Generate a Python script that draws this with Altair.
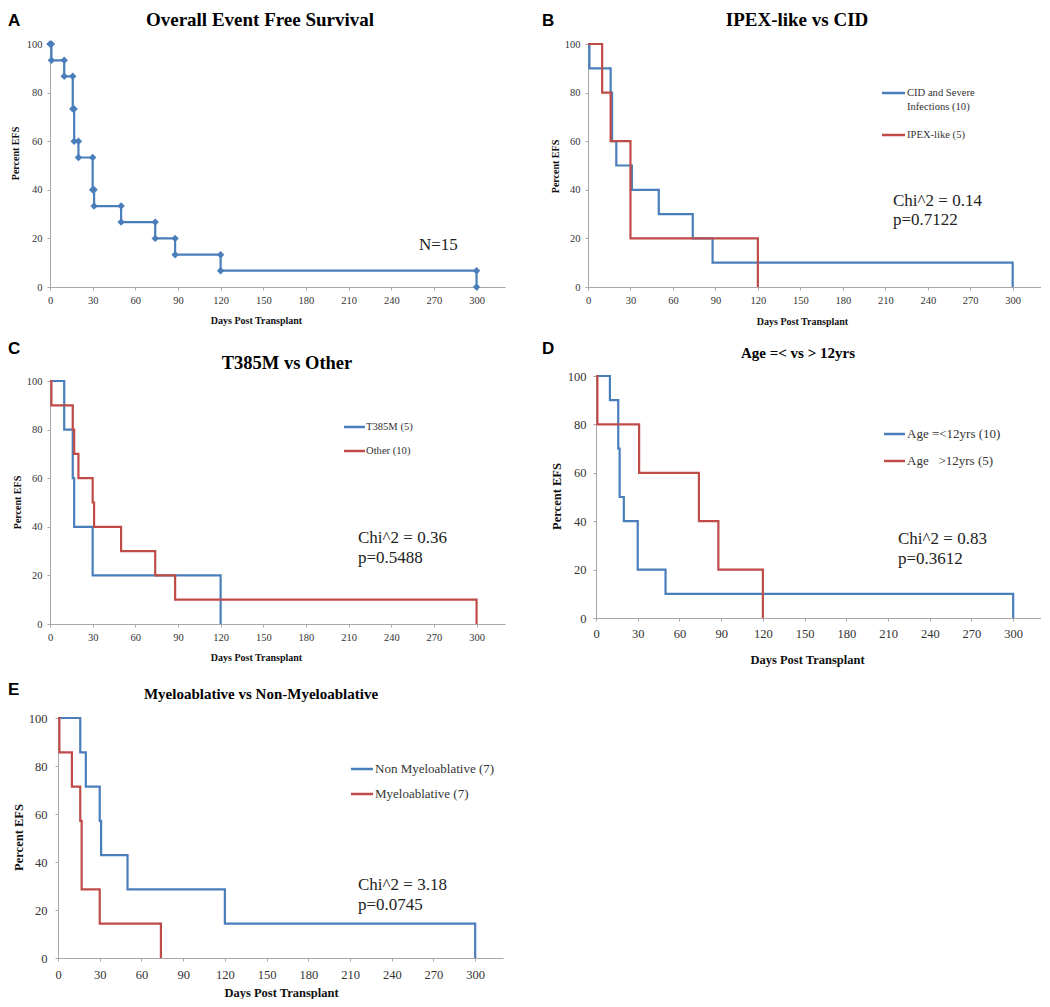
import altair as alt
import pandas as pd

# ---------------- data ----------------
X_TICKS = [0, 30, 60, 90, 120, 150, 180, 210, 240, 270, 300]
Y_TICKS = [0, 20, 40, 60, 80, 100]

A_DAYS = [0, 1, 10, 16, 17, 20, 30, 31, 50, 74, 88, 120, 300]
A_EFS = [100, 93.3, 86.7, 73.3, 60, 53.3, 40, 33.3, 26.7, 20, 13.3, 6.7, 0]

B_CID_DAYS = [0, 1, 16, 17, 20, 31, 50, 74, 88, 300]
B_CID_EFS = [100, 90, 80, 60, 50, 40, 30, 20, 10, 0]
B_IPEX_DAYS = [0, 10, 16, 30, 120]
B_IPEX_EFS = [100, 80, 60, 20, 0]

C_T385M_DAYS = [0, 10, 16, 17, 30, 120]
C_T385M_EFS = [100, 80, 60, 40, 20, 0]
C_OTHER_DAYS = [0, 1, 16, 17, 20, 30, 31, 50, 74, 88, 300]
C_OTHER_EFS = [100, 90, 80, 70, 60, 50, 40, 30, 20, 10, 0]

D_YOUNG_DAYS = [0, 10, 16, 17, 20, 30, 50, 300]
D_YOUNG_EFS = [100, 90, 70, 50, 40, 20, 10, 0]
D_OLD_DAYS = [0, 1, 31, 74, 88, 120]
D_OLD_EFS = [100, 80, 60, 40, 20, 0]

E_NON_DAYS = [0, 16, 20, 30, 31, 50, 120, 300]
E_NON_EFS = [100, 85.7, 71.4, 57.1, 42.9, 28.6, 14.3, 0]
E_MYE_DAYS = [0, 1, 10, 16, 17, 30, 74]
E_MYE_EFS = [100, 85.7, 71.4, 57.1, 28.6, 14.3, 0]

LETTERS = ["A", "B", "C", "D", "E"]
TITLES = ["Overall Event Free Survival", "IPEX-like vs CID", "T385M vs Other",
          "Age =< vs > 12yrs", "Myeloablative vs Non-Myeloablative"]
B_LEGEND = ["CID and Severe\nInfections (10)", "IPEX-like (5)"]
C_LEGEND = ["T385M (5)", "Other (10)"]
D_LEGEND = ["Age =<12yrs (10)", "Age\u00a0\u00a0 >12yrs (5)"]
E_LEGEND = ["Non Myeloablative (7)", "Myeloablative (7)"]
A_NOTE = ["N=15"]
B_NOTE = ["Chi^2 = 0.14", "p=0.7122"]
C_NOTE = ["Chi^2 = 0.36", "p=0.5488"]
D_NOTE = ["Chi^2 = 0.83", "p=0.3612"]
E_NOTE = ["Chi^2 = 3.18", "p=0.0745"]
X_TITLE = "Days Post Transplant"
Y_TITLE = "Percent EFS"

# ---------------- styles ----------------
BLUE = "#4A7EBB"
RED = "#BE4B48"
AX = "#A8A8A8"
SERIF = "Liberation Serif"
SANS = "Liberation Sans"


def one():
    return pd.DataFrame({"k": [0]})


def txt(x, y, s, size, weight="normal", font=SERIF, align="left", color="#1a1a1a",
        baseline="alphabetic", line_height=None):
    kw = dict(font=font, fontSize=size, fontWeight=weight, align=align,
              baseline=baseline, color=color)
    if line_height:
        kw["lineBreak"] = "\n"
        kw["lineHeight"] = line_height
    return alt.Chart(one()).mark_text(**kw).encode(
        x=alt.value(x), y=alt.value(y), text=alt.value(s))


def corners(days, efs):
    xs, ys = [days[0]], [efs[0]]
    for i in range(1, len(days)):
        xs += [days[i], days[i]]
        ys += [efs[i - 1], efs[i]]
    return pd.DataFrame({"day": xs, "efs": ys})


def panel(vw, vh, ox, oy, series, letter, lpos, title, tpos, tsize, ytpos, xtpos,
          axsize, ticksize, ylpad, xlpad, legend=None, note=None, markers=None):
    """vw, vh: view size; ox, oy: offset of plot area inside the view.
    All text positions are given relative to the plot area's top-left corner."""
    yaxis_kw = dict(values=Y_TICKS, title=Y_TITLE, titleFont=SERIF,
                    titleFontSize=axsize, titleFontWeight="bold",
                    titleColor="#111", titleX=ytpos[0], titleY=ytpos[1] + oy,
                    titleAngle=270, titleAlign="center", titleBaseline="middle",
                    labelFont=SERIF, labelFontSize=ticksize,
                    labelColor="#333", labelPadding=ylpad,
                    labelFlush=False, labelOverlap=False, tickSize=3,
                    tickColor=AX, domainColor=AX, grid=False)
    if ox:
        yaxis_kw["offset"] = -ox
    xenc = alt.X("day:Q", scale=alt.Scale(domain=[0, 320], nice=False, zero=True,
                                          range=[ox, vw]),
                 axis=alt.Axis(values=X_TICKS, title=X_TITLE, titleFont=SERIF,
                               titleFontSize=axsize, titleFontWeight="bold",
                               titleColor="#111", titleX=xtpos[0] + ox, titleY=xtpos[1],
                               titleAlign="center", titleBaseline="alphabetic",
                               labelFont=SERIF, labelFontSize=ticksize,
                               labelColor="#333", labelPadding=xlpad,
                               labelFlush=False, labelOverlap=False, tickSize=3,
                               tickColor=AX, domainColor=AX, grid=False))
    yenc = alt.Y("efs:Q", scale=alt.Scale(domain=[0, 100], nice=False, range=[vh, oy]),
                 axis=alt.Axis(**yaxis_kw))
    layers = []
    for days, efs, col in series:
        df = pd.DataFrame({"day": days, "efs": efs})
        layers.append(alt.Chart(df).mark_line(interpolate="step-after", color=col,
                                              strokeWidth=2.2).encode(x=xenc, y=yenc))
    if markers is not None:
        layers.append(alt.Chart(corners(*markers)).mark_point(
            shape="diamond", filled=True, size=55, color=BLUE, opacity=1
        ).encode(x=xenc, y=yenc))
    layers.append(txt(lpos[0] + ox, lpos[1] + oy, letter, 17, weight="bold",
                      font=SANS, color="#000"))
    layers.append(txt(tpos[0] + ox, tpos[1] + oy, title, tsize, weight="bold",
                      align="center", color="#000"))
    if legend is not None:
        labels, x1, x2, xt, ys, fsize, lh = legend
        cols = [BLUE, RED]
        for lab, yy, col in zip(labels, ys, cols):
            layers.append(alt.Chart(one()).mark_rule(color=col, strokeWidth=2.5).encode(
                x=alt.value(x1 + ox), x2=alt.value(x2 + ox), y=alt.value(yy + oy)))
            layers.append(txt(xt + ox, yy + oy + fsize * 0.33, lab, fsize, color="#333",
                              line_height=lh if "\n" in lab else None))
    if note is not None:
        lines, nx, nys, nsize = note
        for s, yy in zip(lines, nys):
            layers.append(txt(nx + ox, yy + oy, s, nsize, color="#222"))
    return alt.layer(*layers).properties(width=vw, height=vh)


pA = panel(455, 243, 0, 0, [(A_DAYS, A_EFS, BLUE)], LETTERS[0], (-42, -18),
           TITLES[0], (210, -18), 19, (-34.5, 109), (206, 36), 10, 10.5, 5, 5.5,
           note=(A_NOTE, 369, [206], 17), markers=(A_DAYS, A_EFS))

pB = panel(453, 243, 0, 0,
           [(B_CID_DAYS, B_CID_EFS, BLUE), (B_IPEX_DAYS, B_IPEX_EFS, RED)],
           LETTERS[1], (-46, -18), TITLES[1], (209, -18), 19, (-32.5, 122), (214, 37),
           10, 10.5, 5, 5.5,
           legend=(B_LEGEND, 294, 317, 319, [49, 91], 10.6, 14),
           note=(B_NOTE, 305, [162, 181], 17))

pC = panel(455, 248, 0, 5,
           [(C_T385M_DAYS, C_T385M_EFS, BLUE), (C_OTHER_DAYS, C_OTHER_EFS, RED)],
           LETTERS[2], (-42, -27), TITLES[2], (237, -12), 18.5, (-32.5, 121), (206, 36),
           10, 10.5, 5, 5.5,
           legend=(C_LEGEND, 294, 315, 316, [46, 70], 10.6, 14),
           note=(C_NOTE, 308, [162, 182], 17))

pD = panel(453, 242, 8, 0,
           [(D_YOUNG_DAYS, D_YOUNG_EFS, BLUE), (D_OLD_DAYS, D_OLD_EFS, RED)],
           LETTERS[3], (-54, -22), TITLES[3], (202, -18), 15, (-40, 120), (211, 45),
           12.5, 12.5, 7, 6.5,
           legend=(D_LEGEND, 288, 309, 311, [58, 85], 13, 16),
           note=(D_NOTE, 302, [168, 188], 17))

pE = panel(453, 245, 8, 5,
           [(E_NON_DAYS, E_NON_EFS, BLUE), (E_MYE_DAYS, E_MYE_EFS, RED)],
           LETTERS[4], (-50, -23), TITLES[4], (203, -19), 15, (-40, 119), (223, 38),
           12.5, 12.5, 8, 7,
           legend=(E_LEGEND, 293, 315, 317, [51, 76], 13, 16),
           note=(E_NOTE, 300, [172, 192], 17))

chart = alt.concat(
    pA, pB, pC, pD, pE, columns=2,
    spacing=alt.RowColnumber(row=89, column=83), bounds="flush"
).properties(
    padding={"top": 3, "left": 0, "right": 0, "bottom": 0}
).configure_view(stroke=None)

chart.save("out.html", embed_options={"renderer": "svg", "actions": False})
